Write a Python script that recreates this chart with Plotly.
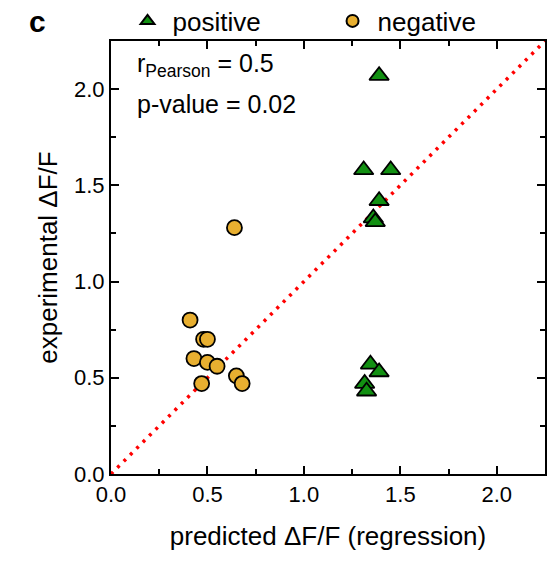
import plotly.graph_objects as go

# positive (green triangles)
pos_x = [1.39, 1.31, 1.45, 1.39, 1.36, 1.37, 1.345, 1.39, 1.315, 1.325]
pos_y = [2.07, 1.58, 1.58, 1.42, 1.33, 1.31, 0.57, 0.53, 0.47, 0.43]

# negative (orange circles)
neg_x = [0.64, 0.41, 0.48, 0.50, 0.43, 0.50, 0.55, 0.65, 0.68, 0.47]
neg_y = [1.28, 0.80, 0.70, 0.70, 0.60, 0.58, 0.56, 0.51, 0.47, 0.47]

diag = [0.0, 2.25]
ticks = [0.0, 0.5, 1.0, 1.5, 2.0]
tick_text = ["0.0", "0.5", "1.0", "1.5", "2.0"]

FONT = "Liberation Sans, Arial, Helvetica, sans-serif"

fig = go.Figure()
fig.add_trace(go.Scatter(x=diag, y=diag, mode="lines",
                         line=dict(color="#ff0000", width=3.5, dash="3px,6px"),
                         showlegend=False, hoverinfo="skip"))
fig.add_trace(go.Scatter(x=pos_x, y=pos_y, mode="markers", name="positive",
                         marker=dict(symbol="triangle-up", size=17, color="#129012",
                                     line=dict(color="black", width=1.8))))
fig.add_trace(go.Scatter(x=neg_x, y=neg_y, mode="markers", name="negative",
                         marker=dict(symbol="circle", size=15, color="#E8AF30",
                                     line=dict(color="black", width=1.8))))

axis_common = dict(range=[0, 2.25], tickvals=ticks, ticktext=tick_text,
                   ticks="inside", ticklen=8, tickwidth=1.5, tickcolor="black",
                   minor=dict(dtick=0.25, tick0=0, ticks="inside", ticklen=5,
                              tickwidth=1.5, tickcolor="black"),
                   showline=True, linecolor="black", linewidth=2, mirror="allticks",
                   showgrid=False, zeroline=False,
                   tickfont=dict(family=FONT, size=22, color="black"))

fig.update_xaxes(**axis_common,
                 title=dict(text="predicted ΔF/F (regression)",
                            font=dict(family=FONT, size=26, color="black"), standoff=20))
fig.update_yaxes(**axis_common,
                 title=dict(text="experimental ΔF/F",
                            font=dict(family=FONT, size=26, color="black"), standoff=9))

fig.add_annotation(x=0.055, y=0.945, xref="paper", yref="paper", xanchor="left", yanchor="middle",
                   text="r<sub>Pearson</sub> = 0.5", showarrow=False,
                   font=dict(family=FONT, size=25, color="black"))
fig.add_annotation(x=0.055, y=0.855, xref="paper", yref="paper", xanchor="left", yanchor="middle",
                   text="p-value = 0.02", showarrow=False,
                   font=dict(family=FONT, size=25, color="black"))
fig.add_annotation(x=-0.17, y=1.046, xref="paper", yref="paper", xanchor="center", yanchor="middle",
                   showarrow=False, text="<b>c</b>",
                   font=dict(family=FONT, size=30, color="black"))

fig.update_layout(
    width=552, height=562,
    margin=dict(l=111, r=7, t=41, b=88, autoexpand=False),
    plot_bgcolor="white", paper_bgcolor="white",
    legend=dict(orientation="h", xref="container", yref="container",
                x=0.222, y=1 - 21 / 562, xanchor="left", yanchor="middle",
                font=dict(family=FONT, size=26, color="black"),
                itemsizing="constant", bgcolor="rgba(0,0,0,0)",
                itemwidth=40, entrywidth=150, entrywidthmode="pixels"),
    showlegend=True,
)

fig.write_html("out.html")
